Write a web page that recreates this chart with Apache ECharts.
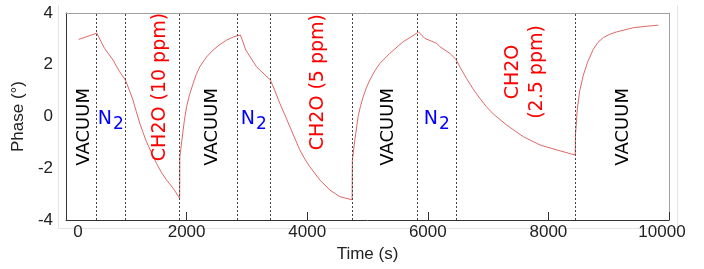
<!DOCTYPE html>
<html>
<head>
<meta charset="utf-8">
<script src="https://cdn.jsdelivr.net/npm/echarts@6/dist/echarts.min.js"></script>
<style>
  html, body { margin: 0; padding: 0; background: #fff; }
  #chart { width: 704px; height: 269px; }
</style>
</head>
<body>
<div id="chart"></div>
<script>
// measured phase response (time in s, phase in degrees)
const timeS = [
  210, 300, 400, 510, 530,
  640, 780, 890, 985,
  1050, 1110, 1165, 1222, 1280, 1334, 1420, 1500, 1580, 1666, 1776, 1885,
  1888, 1920, 1960, 2000, 2050, 2108, 2160, 2218, 2330, 2440, 2550, 2661, 2780, 2893,
  2982, 3159, 3390,
  3460, 3546, 3630, 3712, 3800, 3877, 3960, 4043, 4209, 4375, 4541, 4745,
  4749, 4790, 4845, 4885, 4928, 4980, 5038, 5120, 5204, 5370, 5591, 5812, 5846,
  5950, 6145, 6200, 6366, 6466,
  6550, 6643, 6750, 6864, 6970, 7085, 7307, 7583, 7860, 8137, 8445,
  8449, 8480, 8520, 8580, 8650, 8745, 8820, 8910, 9020, 9132, 9409, 9630, 9823
];
const phaseDeg = [
  2.98, 3.05, 3.13, 3.22, 3.25,
  2.63, 2.18, 1.73, 1.41,
  1.02, 0.64, 0.2, -0.25, -0.63, -0.97, -1.42, -1.81, -2.15, -2.45, -2.77, -3.16,
  -1.55, -0.95, -0.2, 0.38, 0.85, 1.28, 1.62, 1.92, 2.3, 2.57, 2.78, 2.95, 3.08, 3.15,
  2.57, 1.92, 1.41,
  1.02, 0.51, 0.06, -0.39, -0.87, -1.29, -1.64, -1.94, -2.45, -2.84, -3.10, -3.22,
  -1.68, -0.91, 0, 0.42, 0.76, 1.1, 1.41, 1.76, 2.05, 2.44, 2.89, 3.21, 3.27,
  3.02, 2.83, 2.70, 2.44, 2.21,
  1.84, 1.47, 1.07, 0.70, 0.38, 0.10, -0.33, -0.78, -1.10, -1.29, -1.49,
  -0.7, 0.3, 1.0, 1.6, 2.1, 2.6, 2.86, 3.05, 3.18, 3.27, 3.43, 3.49, 3.53
];
// gas switching times (dashed lines)
const switchTimes = [509, 985, 1885, 2838, 3390, 4745, 5830, 6466, 8445];

const xTicks = [0, 2000, 4000, 6000, 8000, 10000];
const yTicks = [-4, -2, 0, 2, 4];

// annotation text and where it sits (time, phase)
const annotations = [
  { text: 'VACUUM', kind: 'vac', t: 310, v: -0.4 },
  { text: 'N2', kind: 'n2', t: 742, v: -0.13 },
  { text: 'CH2O (10 ppm)', kind: 'gas', t: 1556, v: 1.14 },
  { text: 'VACUUM', kind: 'vac', t: 2434, v: -0.4 },
  { text: 'N2', kind: 'n2', t: 3114, v: -0.13 },
  { text: 'CH2O (5 ppm)', kind: 'gas', t: 4176, v: 1.33 },
  { text: 'VACUUM', kind: 'vac', t: 5338, v: -0.4 },
  { text: 'N2', kind: 'n2', t: 6150, v: -0.13 },
  { text: 'CH2O\n(2.5 ppm)', kind: 'gas', t: 7610, v: 1.72 },
  { text: 'VACUUM', kind: 'vac', t: 9237, v: -0.4 }
];

const tickFont = 'Liberation Sans';
const noteFont = "'DejaVu Sans', sans-serif";

let myChart = echarts.init(document.getElementById('chart'));

let curve = timeS.map((t, i) => [t, phaseDeg[i]]);

let noteData = annotations.map((a) => {
  let label;
  if (a.kind === 'n2') {
    label = {
      rotate: 0,
      formatter: '{n|N}{s|2}',
      rich: {
        n: { fontFamily: noteFont, fontSize: 19, color: '#0000ff', lineHeight: 21, verticalAlign: 'top' },
        s: { fontFamily: noteFont, fontSize: 17, color: '#0000ff', lineHeight: 21, padding: [7, 0, 0, 1], verticalAlign: 'top' }
      }
    };
  } else {
    label = {
      rotate: 90,
      formatter: a.text,
      fontFamily: noteFont,
      fontSize: a.kind === 'vac' ? 18 : 19,
      lineHeight: 24,
      color: a.kind === 'vac' ? '#000' : '#ff0000'
    };
  }
  return { value: [a.t, a.v], label: label };
});

let option = {
  animation: false,
  backgroundColor: '#fff',
  grid: { left: 66, right: 35, top: 13, bottom: 49 },
  graphic: [{
    type: 'polyline',
    z: -1,
    shape: { points: [[58.5, 5], [58.5, 228.5], [677.5, 228.5], [677.5, 5]] },
    style: { stroke: '#e4e4e4', fill: null, lineWidth: 1 }
  }],
  xAxis: [{
    type: 'value',
    min: xTicks[0],
    max: xTicks[xTicks.length - 1],
    interval: xTicks[1] - xTicks[0],
    name: 'Time (s)',
    nameLocation: 'middle',
    nameGap: 24,
    nameTextStyle: { fontFamily: tickFont, fontSize: 17, color: '#222' },
    axisLine: { onZero: false, lineStyle: { color: '#333', width: 1 } },
    axisTick: { inside: true, length: 8, lineStyle: { color: '#333' } },
    splitLine: { show: false },
    axisLabel: {
      fontFamily: tickFont,
      fontSize: 17,
      color: '#222',
      margin: 4,
      formatter: (v) => {
        if (v === xTicks[0]) return '{l|' + v + '}';
        if (v === xTicks[xTicks.length - 1]) return '{r|' + v + '}';
        return String(v);
      },
      rich: {
        l: { fontFamily: tickFont, fontSize: 17, color: '#222', padding: [0, 0, 0, 24] },
        r: { fontFamily: tickFont, fontSize: 17, color: '#222', padding: [0, 14, 0, 0] }
      }
    }
  }, {
    type: 'value',
    position: 'top',
    min: xTicks[0],
    max: xTicks[xTicks.length - 1],
    axisLine: { onZero: false, lineStyle: { color: '#a0a0a0' } },
    axisTick: { show: false },
    axisLabel: { show: false },
    splitLine: { show: false }
  }],
  yAxis: [{
    type: 'value',
    min: yTicks[0],
    max: yTicks[yTicks.length - 1],
    interval: yTicks[1] - yTicks[0],
    name: 'Phase (°)',
    nameLocation: 'middle',
    nameGap: 38,
    nameTextStyle: { fontFamily: tickFont, fontSize: 17, color: '#222' },
    axisLine: { show: true, onZero: false, lineStyle: { color: '#333' } },
    axisTick: { show: false },
    splitLine: { show: false },
    axisLabel: { fontFamily: tickFont, fontSize: 17, color: '#222', margin: 13 }
  }, {
    type: 'value',
    position: 'right',
    min: yTicks[0],
    max: yTicks[yTicks.length - 1],
    axisLine: { show: true, onZero: false, lineStyle: { color: '#a0a0a0' } },
    axisTick: { show: false },
    axisLabel: { show: false },
    splitLine: { show: false }
  }],
  series: [{
    name: 'phase',
    type: 'line',
    data: curve,
    symbol: 'none',
    smooth: false,
    lineStyle: { color: '#e06868', width: 1 },
    markLine: {
      silent: true,
      symbol: ['none', 'none'],
      label: { show: false },
      lineStyle: { color: '#444', type: [2, 2], width: 1 },
      data: switchTimes.map((t) => ({ xAxis: t }))
    },
    z: 3
  }, {
    name: 'notes',
    type: 'scatter',
    symbolSize: 1,
    itemStyle: { color: 'rgba(0,0,0,0)', opacity: 1 },
    silent: true,
    labelLayout: { hideOverlap: false },
    label: { show: true, position: 'inside', align: 'center', verticalAlign: 'middle', opacity: 1 },
    data: noteData,
    z: 4
  }]
};
myChart.setOption(option);
</script>
</body>
</html>
